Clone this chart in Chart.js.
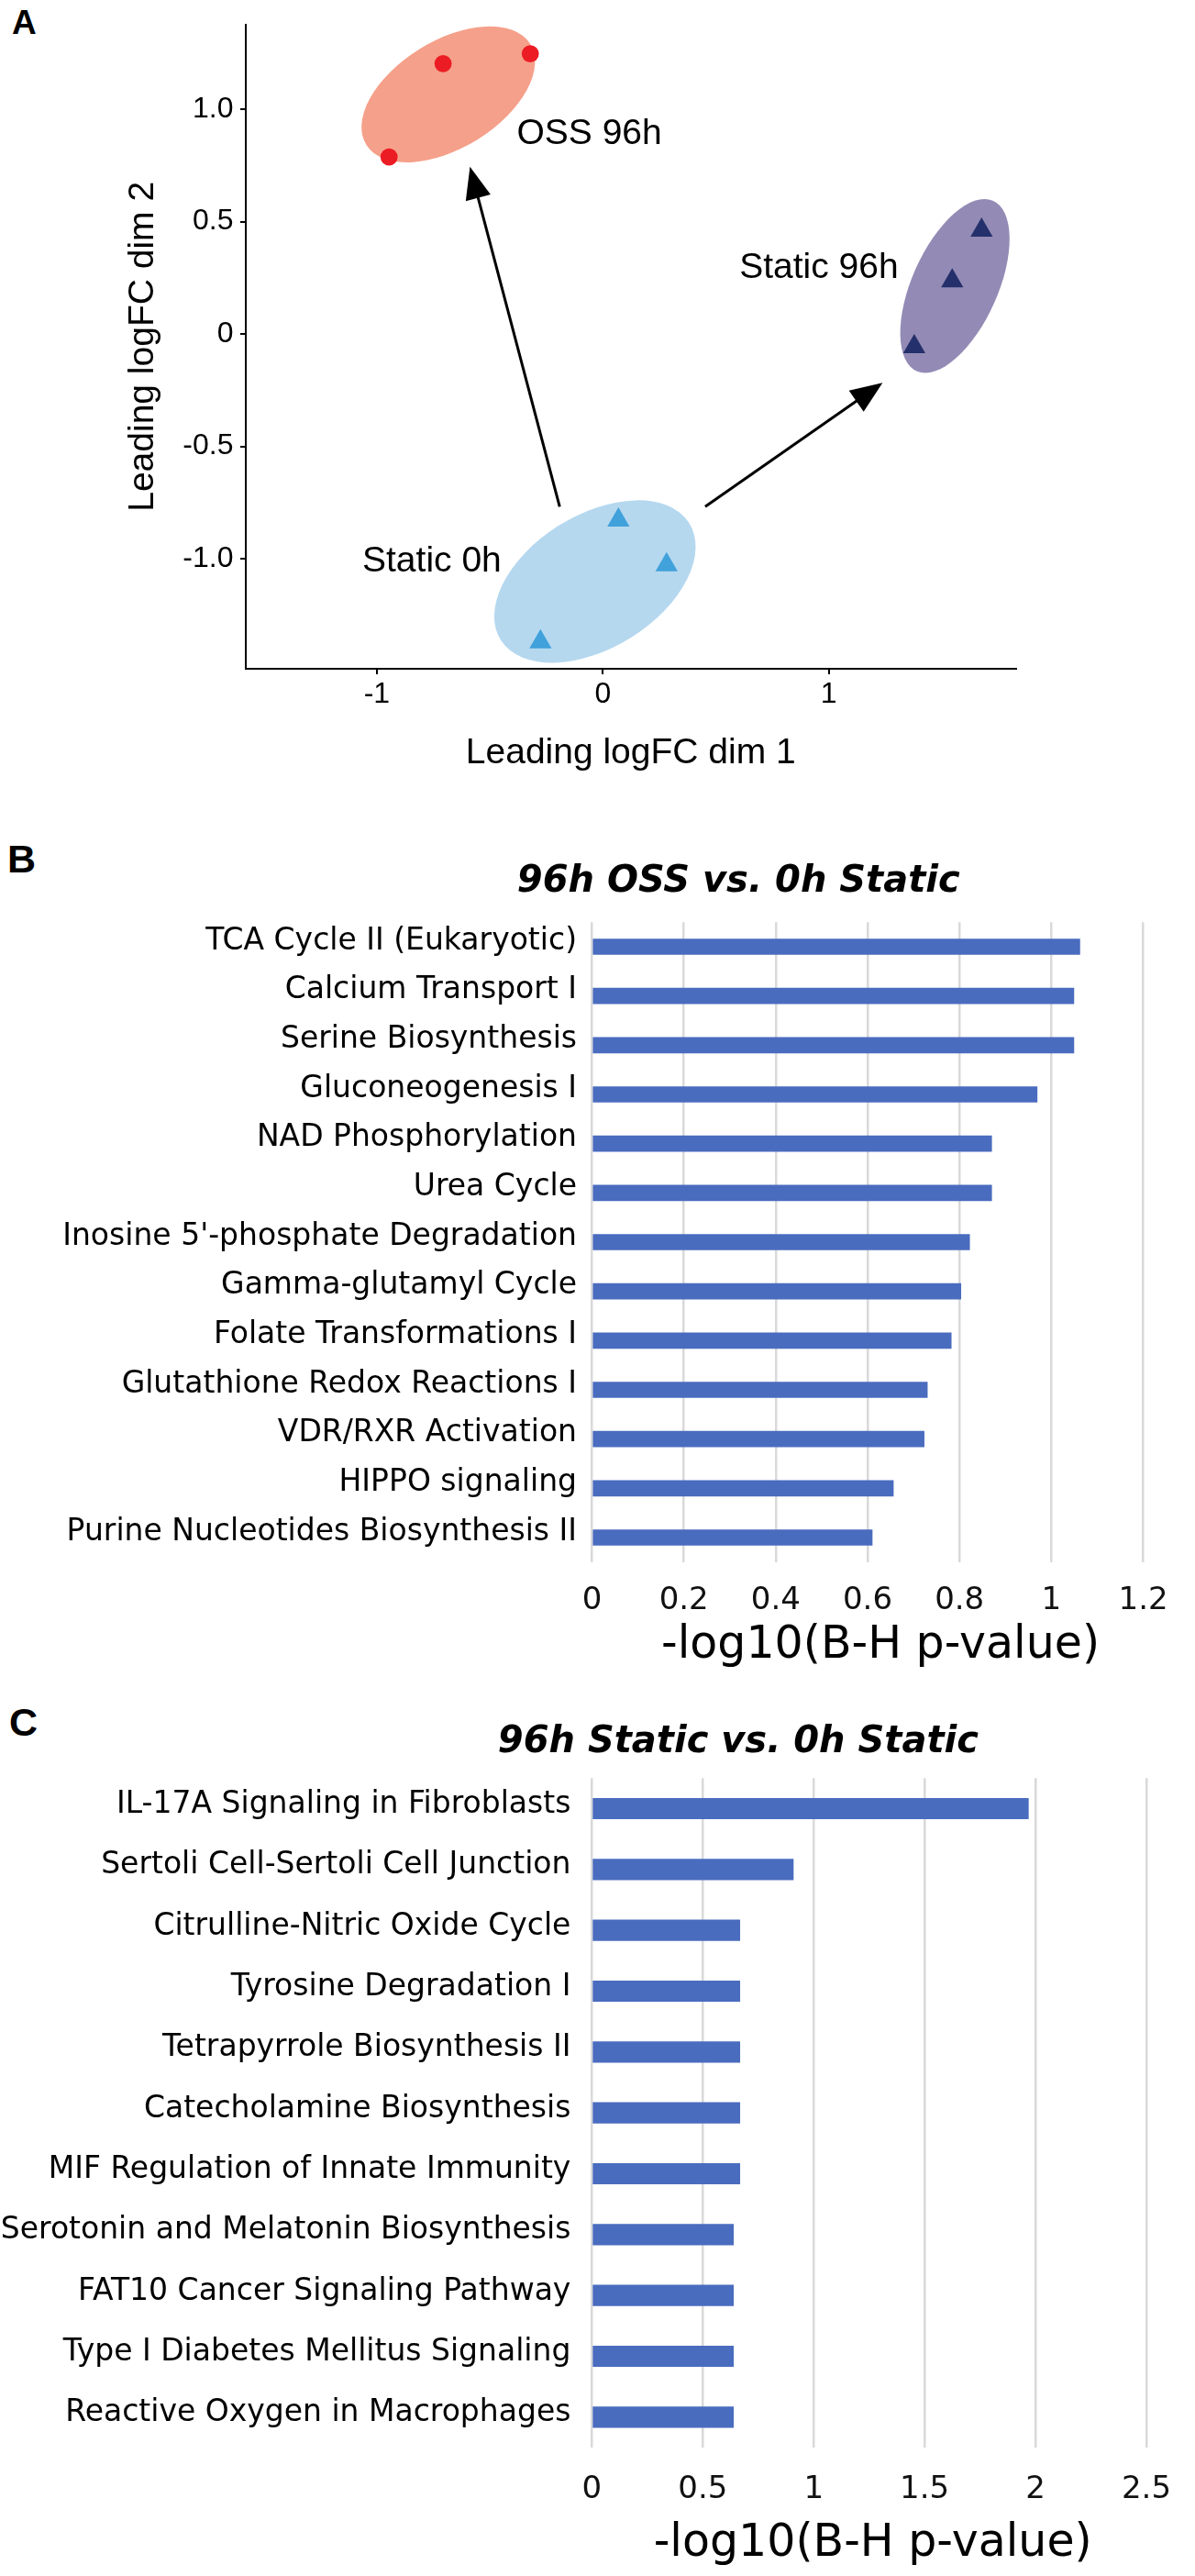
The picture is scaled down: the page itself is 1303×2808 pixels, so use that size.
<!DOCTYPE html>
<html>
<head>
<meta charset="utf-8">
<script src="https://cdn.jsdelivr.net/npm/chart.js"></script>
<style>
html,body{margin:0;padding:0;background:#fff;}
body{width:1303px;height:2808px;position:relative;overflow:hidden;}
canvas{position:absolute;left:0;display:block;}
.letter{position:absolute;font-family:"Liberation Sans",Arial,sans-serif;font-weight:bold;color:#000;line-height:1;white-space:nowrap;}
</style>
</head>
<body>
<div class="letter" style="left:13px;top:6px;font-size:37px;">A</div>
<div class="letter" style="left:8px;top:915px;font-size:43px;">B</div>
<div class="letter" style="left:10px;top:1856px;font-size:43px;">C</div>
<canvas id="ca" width="1303" height="880" style="top:0px;width:1303px;height:880px;"></canvas>
<canvas id="cb" width="1303" height="960" style="top:880px;width:1303px;height:960px;"></canvas>
<canvas id="cc" width="1303" height="968" style="top:1840px;width:1303px;height:968px;"></canvas>
<script>
// ---------------- Panel A data ----------------
const groupNames = ['OSS 96h', 'Static 96h', 'Static 0h'];
const ossX = [-0.707, -0.321, -0.946];
const ossY = [1.203, 1.247, 0.788];
const static96X = [1.676, 1.546, 1.378];
const static96Y = [0.462, 0.236, -0.057];
const static0X = [0.069, 0.282, -0.276];
const static0Y = [-0.828, -1.027, -1.370];
const xTicksA = [-1, 0, 1];
const xTickLabelsA = ['-1', '0', '1'];
const yTicksA = [-1, -0.5, 0, 0.5, 1];
const yTickLabelsA = ['-1.0', '-0.5', '0', '0.5', '1.0'];
// group ellipses in data units: centre + two conjugate semi-axis vectors
const ellCx = [-0.684, 1.558, -0.035];
const ellCy = [1.066, 0.214, -1.101];
const ellUx = [0.3611, 0.1673, 0.4147];
const ellUy = [0.2268, 0.3797, 0.2635];
const ellVx = [-0.1303, -0.1747, -0.1629];
const ellVy = [0.2001, 0.0742, 0.2473];
// arrows (data units)
const arrowFromX = [-0.191, 0.453];
const arrowFromY = [-0.768, -0.768];
const arrowToX = [-0.588, 1.238];
const arrowToY = [0.744, -0.217];
// group label anchors (data units, left / baseline)
const labelAnchorX = [-0.381, 0.604, -1.0645];
const labelAnchorY = [0.8436, 0.251, -1.0566];

// ---------------- Panel B data ----------------
const bTitle = '96h OSS vs. 0h Static';
const bCategories = ['TCA Cycle II (Eukaryotic)', 'Calcium Transport I', 'Serine Biosynthesis',
  'Gluconeogenesis I', 'NAD Phosphorylation', 'Urea Cycle', "Inosine 5'-phosphate Degradation",
  'Gamma-glutamyl Cycle', 'Folate Transformations I', 'Glutathione Redox Reactions I',
  'VDR/RXR Activation', 'HIPPO signaling', 'Purine Nucleotides Biosynthesis II'];
const bValues = [1.062, 1.049, 1.049, 0.969, 0.870, 0.870, 0.822, 0.803, 0.782, 0.730, 0.723, 0.656, 0.610];
const bTicks = [0, 0.2, 0.4, 0.6, 0.8, 1, 1.2];
const bTickLabels = ['0', '0.2', '0.4', '0.6', '0.8', '1', '1.2'];

// ---------------- Panel C data ----------------
const cTitle = '96h Static vs. 0h Static';
const cCategories = ['IL-17A Signaling in Fibroblasts', 'Sertoli Cell-Sertoli Cell Junction',
  'Citrulline-Nitric Oxide Cycle', 'Tyrosine Degradation I', 'Tetrapyrrole Biosynthesis II',
  'Catecholamine Biosynthesis', 'MIF Regulation of Innate Immunity', 'Serotonin and Melatonin Biosynthesis',
  'FAT10 Cancer Signaling Pathway', 'Type I Diabetes Mellitus Signaling', 'Reactive Oxygen in Macrophages'];
const cValues = [1.968, 0.908, 0.667, 0.667, 0.667, 0.667, 0.667, 0.638, 0.638, 0.638, 0.638];
const cTicks = [0, 0.5, 1, 1.5, 2, 2.5];
const cTickLabels = ['0', '0.5', '1', '1.5', '2', '2.5'];

const xTitleBar = '-log10(B-H p-value)';
const xTitleA = 'Leading logFC dim 1';
const yTitleA = 'Leading logFC dim 2';

// ---------------- styles ----------------
const ARIAL = "'Liberation Sans', Arial, sans-serif";
const VERD = "'DejaVu Sans', Verdana, sans-serif";
const ellColors = ['#F5A08A', '#938BB5', '#B5D8EF'];
const barColor = '#4A6CBF';
const gridGray = '#D9D9D9';

Chart.defaults.animation = false;
Chart.defaults.events = [];

const pts = (xs, ys) => xs.map((x, i) => ({x: x, y: ys[i]}));

const clusterPlugin = {
  id: 'clusters',
  beforeDatasetsDraw(chart) {
    const ctx = chart.ctx, xs = chart.scales.x, ys = chart.scales.y;
    ctx.save();
    for (let i = 0; i < ellCx.length; i++) {
      const x0 = xs.getPixelForValue(ellCx[i]), y0 = ys.getPixelForValue(ellCy[i]);
      const ux = xs.getPixelForValue(ellCx[i] + ellUx[i]) - x0;
      const uy = ys.getPixelForValue(ellCy[i] + ellUy[i]) - y0;
      const vx = xs.getPixelForValue(ellCx[i] + ellVx[i]) - x0;
      const vy = ys.getPixelForValue(ellCy[i] + ellVy[i]) - y0;
      ctx.save();
      ctx.transform(ux, uy, vx, vy, x0, y0);
      ctx.beginPath();
      ctx.arc(0, 0, 1, 0, Math.PI * 2);
      ctx.restore();
      ctx.fillStyle = ellColors[i];
      ctx.fill();
    }
    for (let i = 0; i < arrowFromX.length; i++) {
      const x0 = xs.getPixelForValue(arrowFromX[i]), y0 = ys.getPixelForValue(arrowFromY[i]);
      const x1 = xs.getPixelForValue(arrowToX[i]), y1 = ys.getPixelForValue(arrowToY[i]);
      const ang = Math.atan2(y1 - y0, x1 - x0);
      const L = 35, W = 14;
      const bx = x1 - L * Math.cos(ang), by = y1 - L * Math.sin(ang);
      ctx.strokeStyle = '#000';
      ctx.lineWidth = 3;
      ctx.beginPath();
      ctx.moveTo(x0, y0);
      ctx.lineTo(bx + 4 * Math.cos(ang), by + 4 * Math.sin(ang));
      ctx.stroke();
      ctx.fillStyle = '#000';
      ctx.beginPath();
      ctx.moveTo(x1, y1);
      ctx.lineTo(bx - W * Math.sin(ang), by + W * Math.cos(ang));
      ctx.lineTo(bx + W * Math.sin(ang), by - W * Math.cos(ang));
      ctx.closePath();
      ctx.fill();
    }
    ctx.restore();
  },
  afterDatasetsDraw(chart) {
    const ctx = chart.ctx, xs = chart.scales.x, ys = chart.scales.y;
    ctx.save();
    ctx.font = "39px " + ARIAL;
    ctx.fillStyle = '#000';
    ctx.textAlign = 'left';
    ctx.textBaseline = 'alphabetic';
    for (let i = 0; i < groupNames.length; i++) {
      ctx.fillText(groupNames[i], xs.getPixelForValue(labelAnchorX[i]), ys.getPixelForValue(labelAnchorY[i]));
    }
    ctx.restore();
  }
};

new Chart(document.getElementById('ca'), {
  type: 'scatter',
  data: {
    datasets: [
      {label: groupNames[0], data: pts(ossX, ossY), pointStyle: 'circle', pointRadius: 9.4, backgroundColor: '#EC1C24', borderWidth: 0},
      {label: groupNames[1], data: pts(static96X, static96Y), pointStyle: 'triangle', pointRadius: 14, backgroundColor: '#24306B', borderWidth: 0},
      {label: groupNames[2], data: pts(static0X, static0Y), pointStyle: 'triangle', pointRadius: 14, backgroundColor: '#41A1DB', borderWidth: 0}
    ]
  },
  options: {
    responsive: false,
    layout: {padding: {left: 0, right: 195.5, top: 9.8, bottom: 0}},
    plugins: {legend: {display: false}, tooltip: {enabled: false}},
    scales: {
      x: {
        type: 'linear', min: -1.58, max: 1.827,
        afterBuildTicks: s => { s.ticks = xTicksA.map(v => ({value: v})); },
        afterFit: s => { s.height = 151; },
        ticks: {callback: (v, i) => xTickLabelsA[i], font: {family: ARIAL, size: 32}, color: '#000', padding: 2.5, maxRotation: 0},
        grid: {drawOnChartArea: false, drawTicks: true, tickLength: 6, color: '#000', lineWidth: 2},
        border: {display: true, color: '#000', width: 2},
        title: {display: true, text: xTitleA, font: {family: ARIAL, size: 39}, color: '#000', padding: {top: 0, bottom: 35.6}}
      },
      y: {
        type: 'linear', min: -1.489, max: 1.377,
        afterBuildTicks: s => { s.ticks = yTicksA.map(v => ({value: v})); },
        afterFit: s => { s.width = 268; },
        ticks: {callback: (v, i) => yTickLabelsA[i], font: {family: ARIAL, size: 32}, color: '#000', padding: 7.5},
        grid: {drawOnChartArea: false, drawTicks: true, tickLength: 6, color: '#000', lineWidth: 2},
        border: {display: true, color: '#000', width: 2},
        title: {display: true, text: yTitleA, font: {family: ARIAL, size: 39}, color: '#000', padding: {top: 132.8, bottom: 0}}
      }
    }
  },
  plugins: [clusterPlugin]
});

// chart heading drawn at a fixed offset over the bar panel
const headingPlugin = {
  id: 'heading',
  afterDraw(chart, args, opts) {
    const ctx = chart.ctx;
    ctx.save();
    ctx.font = "italic bold 40px " + VERD;
    ctx.fillStyle = '#000';
    ctx.textAlign = 'center';
    ctx.textBaseline = 'alphabetic';
    ctx.fillText(opts.text, opts.x, opts.y);
    ctx.restore();
  }
};

function barChart(id, cats, vals, ticks, tickLabels, title, o) {
  return new Chart(document.getElementById(id), {
    type: 'bar',
    data: {labels: cats, datasets: [{data: vals, backgroundColor: barColor, borderWidth: 0, barThickness: o.barThickness}]},
    options: {
      responsive: false,
      indexAxis: 'y',
      layout: {padding: {left: 0, right: o.padR, top: o.padTop, bottom: 0}},
      plugins: {
        legend: {display: false}, tooltip: {enabled: false},
        heading: {text: title, x: o.titleX, y: o.titleY}
      },
      scales: {
        x: {
          type: 'linear', min: 0, max: o.xMax,
          afterBuildTicks: s => { s.ticks = ticks.map(v => ({value: v})); },
          afterFit: s => { s.height = o.xHeight; },
          ticks: {callback: (v, i) => tickLabels[i], font: {family: VERD, size: 34}, color: '#111', padding: o.tickPad, maxRotation: 0},
          grid: {drawOnChartArea: true, drawTicks: false, color: gridGray, lineWidth: 2.5},
          border: {display: false},
          title: {display: true, text: xTitleBar, font: {family: VERD, size: 49}, color: '#000', padding: {top: 0, bottom: o.xTitleBottom}}
        },
        y: {
          afterFit: s => { s.width = o.yWidth; },
          ticks: {font: {family: VERD, size: 33}, color: '#000', padding: o.labelPad, autoSkip: false, labelOffset: o.labelOffset},
          grid: {display: false},
          border: {display: false}
        }
      }
    },
    plugins: [headingPlugin]
  });
}

barChart('cb', bCategories, bValues, bTicks, bTickLabels, bTitle, {
  barThickness: 17, padR: 28.4, padTop: 125.2, titleX: 805.3, titleY: 92.3,
  xMax: 1.256, xHeight: 137.2, tickPad: 21.6, xTitleBottom: 16.1,
  yWidth: 645.5, labelPad: 8.5, labelOffset: -6
});

barChart('cc', cCategories, cValues, cTicks, cTickLabels, cTitle, {
  barThickness: 22.5, padR: 28.4, padTop: 98.3, titleX: 804.9, titleY: 70.3,
  xMax: 2.533, xHeight: 140, tickPad: 25.6, xTitleBottom: 5.1,
  yWidth: 645.4, labelPad: 15, labelOffset: -4
});
</script>
</body>
</html>
